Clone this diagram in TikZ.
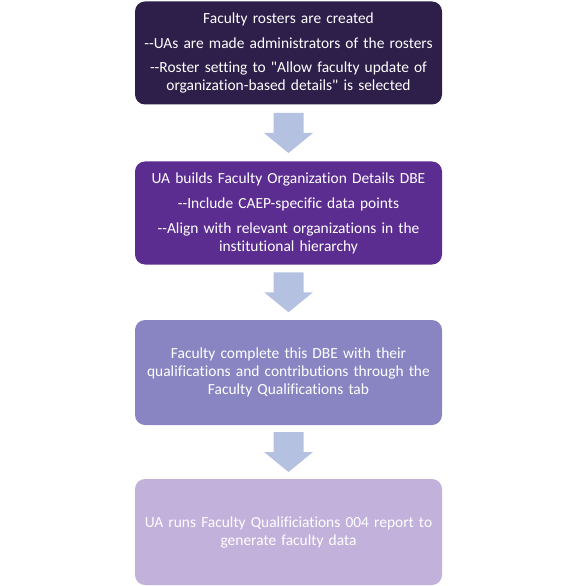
\documentclass[tikz,border=0pt]{standalone}
\usepackage{fontspec}
\setmainfont{Carlito}[Ligatures={TeXOff,NoCommon}]
\usetikzlibrary{calc}
\definecolor{cA}{HTML}{2D1F4A}
\definecolor{cB}{HTML}{5B2D90}
\definecolor{cC}{HTML}{8985C3}
\definecolor{cD}{HTML}{C2B1DB}
\definecolor{cArr}{HTML}{B4C1E1}
\tikzset{
  stepbox/.style={draw=none, rounded corners=10bp, minimum width=307bp, minimum height=103bp,
    text width=300bp, align=center, text=white, inner sep=0pt,
    font=\fontsize{15.5}{18}\selectfont},
  blockarrow/.style={fill=cArr, draw=none}
}
\newcommand{\blockarr}[2]{%
  \path let \p1=(#1.south), \p2=(#2.north) in
    coordinate (m) at ($(\p1)!0.5!(\p2)$);
  \fill[blockarrow] ($(m)+(-15bp,20bp)$) -- ($(m)+(15bp,20bp)$) -- ($(m)+(15bp,0bp)$)
    -- ($(m)+(24.5bp,0bp)$) -- ($(m)+(0,-20bp)$) -- ($(m)+(-24.5bp,0bp)$)
    -- ($(m)+(-15bp,0bp)$) -- cycle;}
\begin{document}
\begin{tikzpicture}[x=1bp,y=-1bp]
\useasboundingbox (0,0) rectangle (576,586);
\node[stepbox, fill=cA] (b1) at (288.5,53) {Faculty rosters are created\\[7bp]
--UAs are made administrators of the rosters\\[7bp]
--Roster setting to "Allow faculty update of\\organization-based details" is selected};
\node[stepbox, fill=cB] (b2) at (288.5,213) {UA builds Faculty Organization Details DBE\\[7bp]
--Include CAEP-specific data points\\[7bp]
--Align with relevant organizations in the\\institutional hierarchy};
\node[stepbox, fill=cC, minimum height=105bp] (b3) at (288.5,372.5) {Faculty complete this DBE with their\\qualifications and contributions\ through the\\Faculty Qualifications tab};
\node[stepbox, fill=cD, minimum height=106bp] (b4) at (288.5,532) {UA runs Faculty Qualificiations 004 report to\\generate faculty data};
\blockarr{b1}{b2}
\blockarr{b2}{b3}
\blockarr{b3}{b4}
\end{tikzpicture}
\end{document}
